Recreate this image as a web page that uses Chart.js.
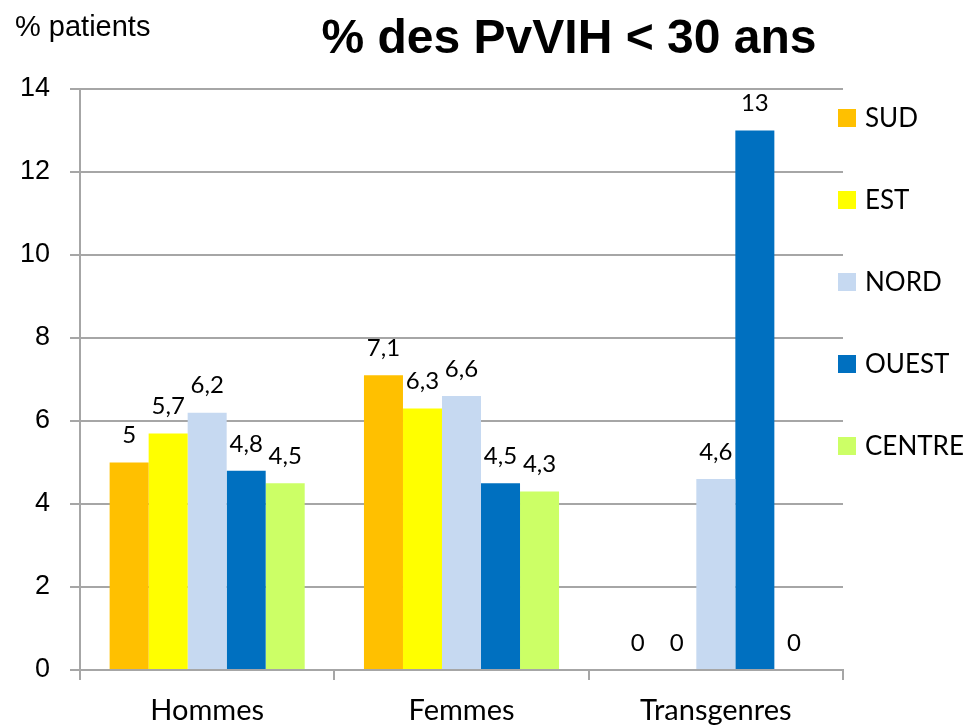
<!DOCTYPE html>
<html>
<head>
<meta charset="utf-8">
<script src="https://cdn.jsdelivr.net/npm/chart.js@4"></script>
<style>
  html, body { margin: 0; padding: 0; background: #fff; }
  #wrap { width: 971px; height: 725px; }
</style>
</head>
<body>
<div id="wrap"><canvas id="myChart" width="971" height="725"></canvas></div>
<script>
// data
const categories = ["Hommes", "Femmes", "Transgenres"];
const regions = ["SUD", "EST", "NORD", "OUEST", "CENTRE"];
const sud = [5, 7.1, 0];
const est = [5.7, 6.3, 0];
const nord = [6.2, 6.6, 4.6];
const ouest = [4.8, 4.5, 13];
const centre = [4.5, 4.3, 0];
const colors = ["#FFC000", "#FFFF00", "#C6D9F1", "#0070C0", "#CCFF66"];
const chartTitle = "% des PvVIH < 30 ans";
const yTitle = "% patients";

const series = [sud, est, nord, ouest, centre];
const gridGrey = "#a6a6a6";

// value labels above bars, comma decimal
const valueLabels = {
  id: "valueLabels",
  afterDatasetsDraw(chart) {
    const ctx = chart.ctx;
    ctx.save();
    ctx.font = "24px Lato, 'Open Sans', sans-serif";
    ctx.fillStyle = "#000";
    ctx.textAlign = "center";
    ctx.textBaseline = "middle";
    chart.data.datasets.forEach((ds, i) => {
      chart.getDatasetMeta(i).data.forEach((bar, j) => {
        const txt = String(ds.data[j]).replace(".", ",");
        ctx.fillText(txt, bar.x, bar.y - 27);
      });
    });
    ctx.restore();
  }
};

// title, axis caption and legend on the right
const extras = {
  id: "extras",
  afterDraw(chart) {
    const ctx = chart.ctx;
    ctx.save();
    ctx.fillStyle = "#000";
    ctx.textBaseline = "middle";
    ctx.textAlign = "center";
    ctx.font = "bold 48px 'Liberation Sans', Arial, sans-serif";
    ctx.fillText(chartTitle, 569, 40);
    ctx.textAlign = "left";
    ctx.font = "29px 'Liberation Sans', Arial, sans-serif";
    ctx.fillText(yTitle, 15, 28);

    ctx.font = "26px Lato, 'Open Sans', sans-serif";
    chart.data.datasets.forEach((ds, i) => {
      const y = 118 + i * 82;
      ctx.fillStyle = ds.backgroundColor;
      ctx.fillRect(838, y - 9, 18, 18);
      ctx.fillStyle = "#000";
      ctx.fillText(ds.label, 865, y + 1);
    });
    ctx.restore();
  }
};

const ctx = document.getElementById("myChart").getContext("2d");
const myChart = new Chart(ctx, {
  type: "bar",
  data: {
    labels: categories,
    datasets: regions.map((r, i) => ({
      label: r,
      data: series[i],
      backgroundColor: colors[i],
      borderWidth: 0,
      categoryPercentage: 0.767,
      barPercentage: 1
    }))
  },
  options: {
    responsive: false,
    animation: false,
    layout: { padding: { top: 89, right: 128, bottom: 0, left: 0 } },
    plugins: {
      legend: { display: false },
      title: { display: false },
      tooltip: { enabled: false }
    },
    scales: {
      x: {
        grid: {
          display: true,
          drawOnChartArea: false,
          drawTicks: true,
          tickLength: 10,
          color: gridGrey,
          lineWidth: 2
        },
        border: { display: true, color: gridGrey, width: 2 },
        ticks: {
          color: "#000",
          padding: 13,
          font: { family: "Lato, 'Open Sans', sans-serif", size: 29 }
        },
        afterFit(scale) { scale.height = 55; }
      },
      y: {
        min: 0,
        max: 14,
        ticks: {
          stepSize: 2,
          color: "#000",
          padding: 20,
          font: { family: "'Liberation Sans', Arial, sans-serif", size: 27 }
        },
        grid: {
          color: gridGrey,
          lineWidth: 2,
          tickLength: 10
        },
        border: { display: true, color: gridGrey, width: 2 },
        afterFit(scale) { scale.width = 80; }
      }
    }
  },
  plugins: [valueLabels, extras]
});
</script>
</body>
</html>
